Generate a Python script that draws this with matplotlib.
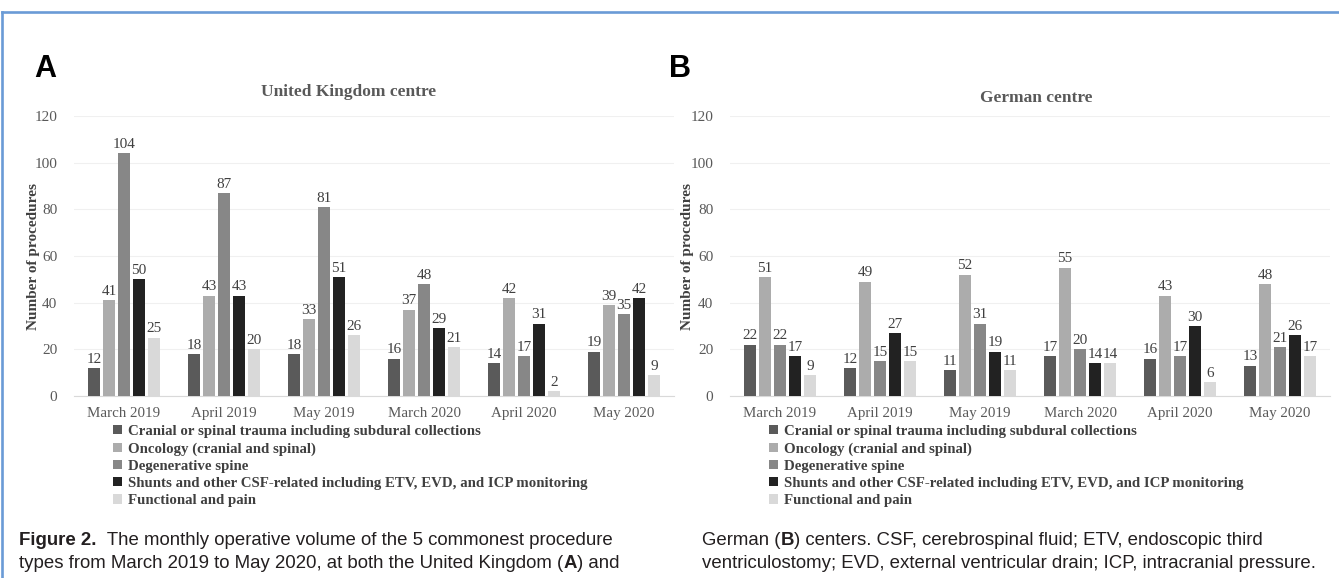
import matplotlib
matplotlib.use('Agg')
import matplotlib.pyplot as plt
import numpy as np
from matplotlib.lines import Line2D
from matplotlib.patches import Patch

months = ["March 2019", "April 2019", "May 2019", "March 2020", "April 2020", "May 2020"]
categories = [
    "Cranial or spinal trauma including subdural collections",
    "Oncology (cranial and spinal)",
    "Degenerative spine",
    "Shunts and other CSF-related including ETV, EVD, and ICP monitoring",
    "Functional and pain",
]
uk_trauma = [12, 18, 18, 16, 14, 19]
uk_oncology = [41, 43, 33, 37, 42, 39]
uk_degenerative = [104, 87, 81, 48, 17, 35]
uk_shunts = [50, 43, 51, 29, 31, 42]
uk_functional = [25, 20, 26, 21, 2, 9]

de_trauma = [22, 12, 11, 17, 16, 13]
de_oncology = [51, 49, 52, 55, 43, 48]
de_degenerative = [22, 15, 31, 20, 17, 21]
de_shunts = [17, 27, 19, 14, 30, 26]
de_functional = [9, 15, 11, 14, 6, 17]

yticks = [0, 20, 40, 60, 80, 100, 120]
colors = ["#5a5a5a", "#acacac", "#878787", "#222222", "#d9d9d9"]

SERIF = "Liberation Serif"
SANS = "Liberation Sans"
W, H = 1339, 578

fig = plt.figure(figsize=(W / 100, H / 100), dpi=100)


def fx(px):
    return px / W


def fy(py):
    return 1 - py / H


def panel(left_px, right_px, series, title, title_xy, letter, letter_xy, ylabel_x, legend_xy):
    ax = fig.add_axes([fx(left_px), fy(396), (right_px - left_px) / W, (396 - 116) / H])
    x = np.arange(len(months))
    pitch, width = 0.15, 0.12
    for i, (vals, c) in enumerate(zip(series, colors)):
        pos = x + (i - 2) * pitch
        ax.bar(pos, vals, width=width, color=c, zorder=3, linewidth=0)
        for xb, v in zip(pos, vals):
            ax.text(xb, v + 1.0, str(v), ha='center', va='bottom', fontsize=11,
                    family=SERIF, color='#404040', zorder=4)
    ax.set_xlim(-0.5, len(months) - 0.5)
    ax.set_ylim(0, 120)
    ax.set_yticks(yticks)
    ax.set_xticks(x)
    ax.set_xticklabels(months, family=SERIF, fontsize=10.8, color='#595959')
    ax.set_yticklabels([str(t) for t in yticks], family=SERIF, fontsize=11, color='#595959')
    ax.tick_params(axis='both', length=0)
    ax.tick_params(axis='y', pad=12)
    ax.tick_params(axis='x', pad=8)
    ax.grid(axis='y', color='#f0f0f0', linewidth=0.8, zorder=0)
    for s in ['top', 'right', 'left']:
        ax.spines[s].set_visible(False)
    ax.spines['bottom'].set_color('#d9d9d9')
    ax.spines['bottom'].set_linewidth(0.8)
    fig.text(fx(title_xy[0]), fy(title_xy[1]), title, ha='center', va='center',
             family=SERIF, fontsize=12.5, fontweight='bold', color='#595959')
    fig.text(fx(letter_xy[0]), fy(letter_xy[1]), letter, ha='left', va='baseline',
             family=SANS, fontsize=22, fontweight='bold', color='black')
    fig.text(fx(ylabel_x), fy(256), "Number of procedures", rotation=90, ha='center',
             va='center', family=SERIF, fontsize=11, fontweight='bold', color='#404040')
    handles = [Patch(facecolor=c, edgecolor='none') for c in colors]
    leg = fig.legend(handles, categories, loc='upper left',
                     bbox_to_anchor=(fx(legend_xy[0]), fy(legend_xy[1])),
                     bbox_transform=fig.transFigure, frameon=False, borderpad=0,
                     handlelength=0.6, handleheight=0.6, handletextpad=0.4,
                     labelspacing=0.28, borderaxespad=0,
                     prop={'family': SERIF, 'weight': 'bold', 'size': 10.7})
    for t in leg.get_texts():
        t.set_color('#404040')
    return ax


panel(74, 674, [uk_trauma, uk_oncology, uk_degenerative, uk_shunts, uk_functional],
      "United Kingdom centre", (349, 92), "A", (34, 77), 34, (113, 425))
panel(730, 1330, [de_trauma, de_oncology, de_degenerative, de_shunts, de_functional],
      "German centre", (1036, 98), "B", (669, 77), 687, (769, 425))

# border
border_c = '#6a9bd6'
fig.add_artist(Line2D([fx(2), 1], [fy(12), fy(12)], color=border_c, lw=1.9,
                      transform=fig.transFigure))
fig.add_artist(Line2D([fx(2), fx(2)], [fy(12), 0], color=border_c, lw=1.9,
                      transform=fig.transFigure))

renderer = fig.canvas.get_renderer()


def rich(x_px, y_px, segments, size=13.4):
    x = x_px
    for s, w in segments:
        t = fig.text(fx(x), fy(y_px), s, fontsize=size, fontweight=w, family=SANS,
                     ha='left', va='baseline', color='#231f20')
        bb = t.get_window_extent(renderer)
        x = bb.x1


rich(19, 545, [("Figure 2.", 'bold'), ("  The monthly operative volume of the 5 commonest procedure", 'normal')])
rich(19, 568, [("types from March 2019 to May 2020, at both the United Kingdom (", 'normal'),
               ("A", 'bold'), (") and", 'normal')])
rich(702, 545, [("German (", 'normal'), ("B", 'bold'),
                (") centers. CSF, cerebrospinal fluid; ETV, endoscopic third", 'normal')])
rich(702, 568, [("ventriculostomy; EVD, external ventricular drain; ICP, intracranial pressure.", 'normal')])

fig.savefig("out.png", dpi=100)
